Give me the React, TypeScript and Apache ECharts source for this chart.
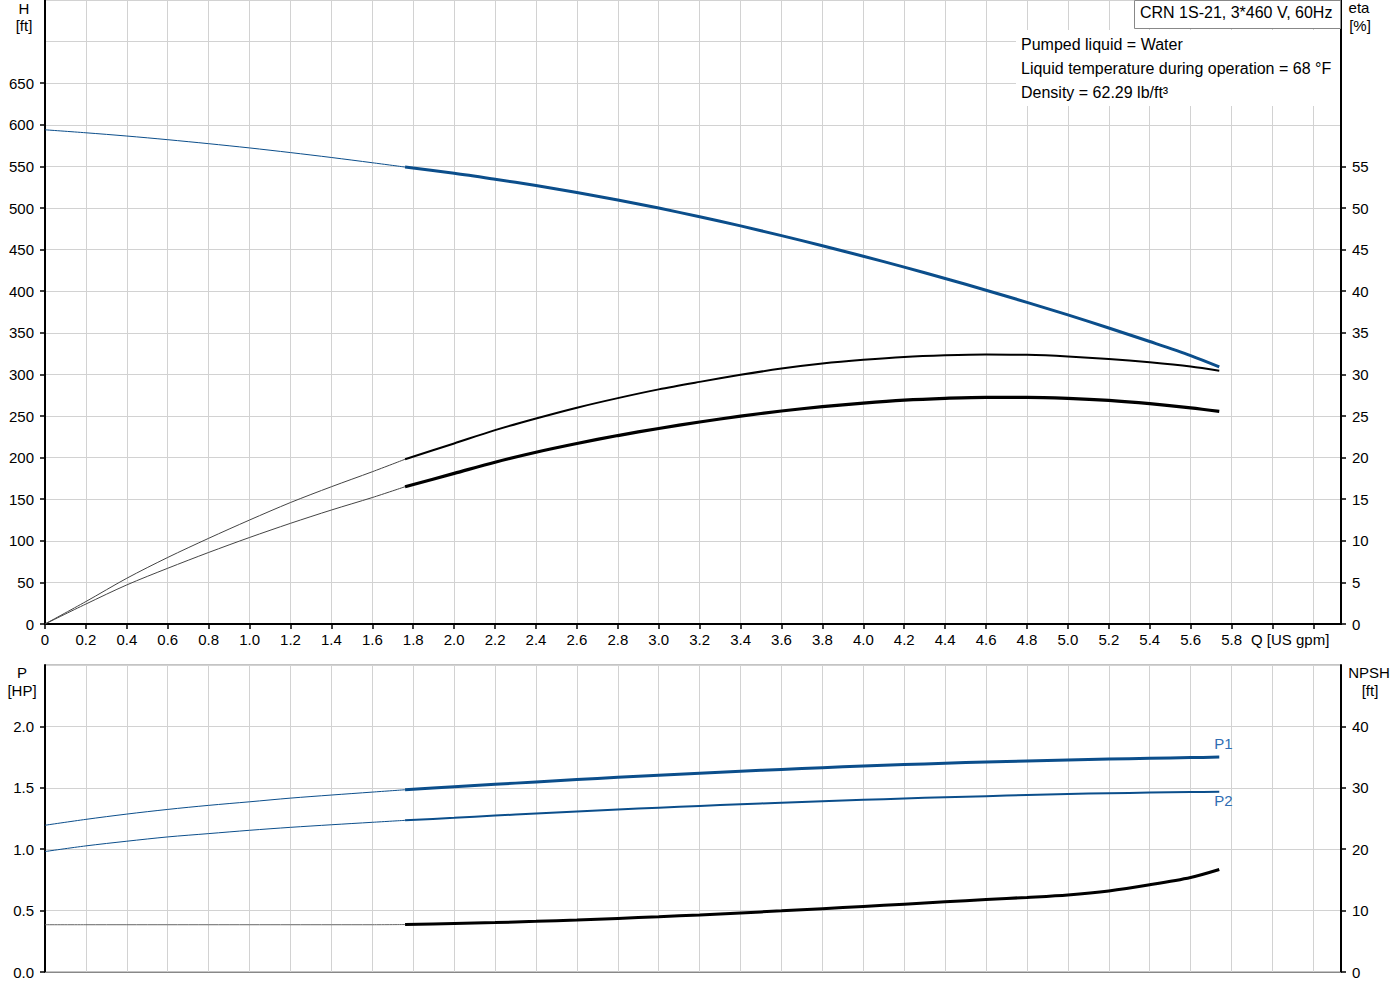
import { useEffect, useRef } from 'react';
import * as echarts from 'echarts';

const FONT = '"Liberation Sans", Arial, Helvetica, sans-serif';
const BLUE = '#0b4e8b';
const LABEL_BLUE = '#2f6db3';
const GRID = '#d2d2d2';

// flow [US gpm]; thin part of each curve runs to 1.76, thick part from there on
const qThin = [0, 0.2, 0.4, 0.6, 0.8, 1.0, 1.2, 1.4, 1.6, 1.76];
const qThick = [1.76, 2.0, 2.2, 2.4, 2.6, 2.8, 3.0, 3.2, 3.4, 3.6, 3.8, 4.0, 4.2, 4.4, 4.6, 4.8, 5.0, 5.2, 5.4, 5.6, 5.74];

// head H [ft]
const headThin = [594, 590.4, 586.5, 582.1, 577.3, 572.2, 566.6, 560.7, 554.4, 549.2];
const headThick = [549.2, 541.8, 534.6, 527.0, 518.6, 509.6, 499.9, 489.5, 478.5, 466.8, 454.6, 442.0, 428.9, 415.3, 401.2, 386.6, 371.5, 355.8, 339.5, 322.6, 309];

// efficiency eta [%]
const etaUpperThin = [0, 2.7, 5.5, 8.0, 10.3, 12.5, 14.6, 16.5, 18.3, 19.8];
const etaUpperThick = [19.8, 21.7, 23.3, 24.7, 26.0, 27.15, 28.2, 29.1, 29.95, 30.7, 31.3, 31.75, 32.1, 32.3, 32.4, 32.35, 32.15, 31.85, 31.45, 30.95, 30.45];
const etaLowerThin = [0, 2.4, 4.7, 6.7, 8.6, 10.4, 12.1, 13.7, 15.2, 16.5];
const etaLowerThick = [16.5, 18.1, 19.45, 20.65, 21.7, 22.65, 23.5, 24.28, 24.98, 25.6, 26.12, 26.55, 26.9, 27.12, 27.25, 27.25, 27.12, 26.87, 26.48, 25.98, 25.55];

// power P [HP]
const p1Thin = [1.195, 1.243, 1.286, 1.324, 1.357, 1.386, 1.416, 1.441, 1.465, 1.484];
const p1Thick = [1.484, 1.508, 1.528, 1.548, 1.567, 1.585, 1.602, 1.619, 1.635, 1.650, 1.664, 1.677, 1.689, 1.700, 1.710, 1.719, 1.727, 1.734, 1.740, 1.746, 1.750];
const p2Thin = [0.981, 1.027, 1.065, 1.1, 1.127, 1.154, 1.178, 1.199, 1.219, 1.235];
const p2Thick = [1.235, 1.256, 1.274, 1.291, 1.307, 1.323, 1.338, 1.352, 1.366, 1.379, 1.391, 1.402, 1.413, 1.423, 1.432, 1.441, 1.449, 1.456, 1.461, 1.465, 1.468];

// NPSH [ft]
const npshThin = [7.7, 7.7, 7.7, 7.7, 7.7, 7.7, 7.7, 7.7, 7.7, 7.73];
const npshThick = [7.73, 7.9, 8.05, 8.25, 8.48, 8.73, 9.0, 9.3, 9.62, 9.96, 10.32, 10.68, 11.05, 11.43, 11.8, 12.15, 12.55, 13.2, 14.2, 15.4, 16.7];

// tick labels
const hTicks = [0, 50, 100, 150, 200, 250, 300, 350, 400, 450, 500, 550, 600, 650];
const etaTicks = [0, 5, 10, 15, 20, 25, 30, 35, 40, 45, 50, 55];
const pTicks = [0, 0.5, 1.0, 1.5, 2.0];
const npshTicks = [0, 10, 20, 30, 40];

const infoLines = [
    'Pumped liquid = Water',
    'Liquid temperature during operation = 68 °F',
    'Density = 62.29 lb/ft³',
];

const Q_MAX = 6.335;

const pts = (xs: number[], ys: number[]) => xs.map((x, i) => [x, ys[i]]);

const labelStyle = {color: '#000', fontFamily: FONT, fontSize: 15};

function line(name: string, xs: number[], ys: number[], xi: number, yi: number, color: string, width: number, extra: any = {}) {
    return {
        name,
        type: 'line',
        xAxisIndex: xi,
        yAxisIndex: yi,
        data: pts(xs, ys),
        smooth: 0.3,
        symbol: 'none',
        lineStyle: {color, width},
        z: width > 1.5 ? 5 : 3,
        ...extra,
    };
}

function caption(text: string, x: number, y: number, align = 'center') {
    return {type: 'text', z: 12, x, y, style: {text, font: `15px ${FONT}`, fill: '#000', align, verticalAlign: 'middle'}};
}

export default function App() {
    const ref = useRef<HTMLDivElement | null>(null);

    useEffect(() => {
        if (!ref.current) return;
        const chart = echarts.init(ref.current, undefined, {renderer: 'svg'});

        const gridLine = {show: true, lineStyle: {color: GRID, width: 1}};
        const blackLine = {show: true, lineStyle: {color: '#000', width: 2}};
        const tickOut = {show: true, inside: false, length: 5, lineStyle: {color: '#000', width: 1.5}};

        chart.setOption({
            animation: false,
            textStyle: {fontFamily: FONT},
            grid: [
                {left: 45, right: 59, top: 0, height: 624, show: true, borderColor: '#999', borderWidth: 1, backgroundColor: 'transparent'},
                {left: 45, right: 59, top: 665, height: 307, show: true, borderColor: '#888', borderWidth: 1, backgroundColor: 'transparent'},
            ],
            xAxis: [
                {
                    type: 'value', gridIndex: 0, min: 0, max: Q_MAX, interval: 0.2,
                    axisLine: blackLine, axisTick: tickOut, splitLine: gridLine,
                    axisLabel: {
                        ...labelStyle, margin: 8, showMaxLabel: false,
                        formatter: (v: number) => (v > 5.85 ? '' : v === 0 ? '0' : v.toFixed(1)),
                    },
                },
                {
                    type: 'value', gridIndex: 1, min: 0, max: Q_MAX, interval: 0.2,
                    axisLine: {show: true, lineStyle: {color: '#888', width: 1}},
                    axisTick: {show: false}, axisLabel: {show: false}, splitLine: gridLine,
                },
            ],
            yAxis: [
                // 0: H (grid lines)
                {
                    type: 'value', gridIndex: 0, position: 'left', min: 0, max: 750, interval: 50,
                    axisLine: blackLine, axisTick: {show: false}, axisLabel: {show: false}, splitLine: gridLine,
                },
                // 1: eta
                {
                    type: 'value', gridIndex: 0, position: 'right', min: 0, max: 75, interval: 5,
                    axisLine: blackLine, splitLine: {show: false},
                    axisTick: {...tickOut, customValues: etaTicks},
                    axisLabel: {...labelStyle, margin: 11, customValues: etaTicks},
                },
                // 2: H labels
                {
                    type: 'value', gridIndex: 0, position: 'left', min: 0, max: 750, interval: 50,
                    axisLine: {show: false}, splitLine: {show: false},
                    axisTick: {...tickOut, customValues: hTicks},
                    axisLabel: {...labelStyle, margin: 11, customValues: hTicks},
                },
                // 3: P (grid lines)
                {
                    type: 'value', gridIndex: 1, position: 'left', min: 0, max: 2.5, interval: 0.5,
                    axisLine: blackLine, axisTick: {show: false}, axisLabel: {show: false}, splitLine: gridLine,
                },
                // 4: NPSH
                {
                    type: 'value', gridIndex: 1, position: 'right', min: 0, max: 50, interval: 10,
                    axisLine: blackLine, splitLine: {show: false},
                    axisTick: {...tickOut, customValues: npshTicks},
                    axisLabel: {...labelStyle, margin: 11, customValues: npshTicks},
                },
                // 5: P labels
                {
                    type: 'value', gridIndex: 1, position: 'left', min: 0, max: 2.5, interval: 0.5,
                    axisLine: {show: false}, splitLine: {show: false},
                    axisTick: {...tickOut, customValues: pTicks},
                    axisLabel: {...labelStyle, margin: 11, customValues: pTicks, formatter: (v: number) => v.toFixed(1)},
                },
            ],
            series: [
                line('H thin', qThin, headThin, 0, 0, BLUE, 1),
                line('H', qThick, headThick, 0, 0, BLUE, 3),
                line('eta thin', qThin, etaUpperThin, 0, 1, '#444', 1),
                line('eta', qThick, etaUpperThick, 0, 1, '#000', 2),
                line('eta2 thin', qThin, etaLowerThin, 0, 1, '#444', 1),
                line('eta2', qThick, etaLowerThick, 0, 1, '#000', 3.2),
                line('P1 thin', qThin, p1Thin, 1, 3, BLUE, 1),
                line('P1', qThick, p1Thick, 1, 3, BLUE, 3, {
                    endLabel: {show: true, formatter: 'P1', color: LABEL_BLUE, fontFamily: FONT, fontSize: 15, offset: [-13, -14]},
                }),
                line('P2 thin', qThin, p2Thin, 1, 3, BLUE, 1),
                line('P2', qThick, p2Thick, 1, 3, BLUE, 2, {
                    endLabel: {show: true, formatter: 'P2', color: LABEL_BLUE, fontFamily: FONT, fontSize: 15, offset: [-13, 9]},
                }),
                line('NPSH thin', qThin, npshThin, 1, 4, '#666', 1),
                line('NPSH', qThick, npshThick, 1, 4, '#000', 3),
            ],
            graphic: [
                {type: 'rect', z: 10, shape: {x: 1016, y: 30, width: 324, height: 76}, style: {fill: '#fff'}},
                {type: 'rect', z: 11, shape: {x: 1134.5, y: 0.5, width: 206, height: 28}, style: {fill: '#fff', stroke: '#888', lineWidth: 1}},
                {type: 'text', z: 12, x: 1140, y: 12, style: {text: 'CRN 1S-21, 3*460 V, 60Hz', font: `16px ${FONT}`, fill: '#000', verticalAlign: 'middle'}},
                ...infoLines.map((t, i) => ({
                    type: 'text', z: 12, x: 1021, y: 44 + i * 24,
                    style: {text: t, font: `16px ${FONT}`, fill: '#000', verticalAlign: 'middle'},
                })),
                caption('H', 24, 8),
                caption('[ft]', 24, 25),
                caption('eta', 1359, 7),
                caption('[%]', 1360, 25),
                caption('P', 22, 672),
                caption('[HP]', 22, 690),
                caption('NPSH', 1369, 672),
                caption('[ft]', 1370, 690),
                caption('Q [US gpm]', 1251, 639, 'left'),
            ],
        });

        return () => chart.dispose();
    }, []);

    return <div ref={ref} style={{position: 'fixed', left: 0, top: 0, width: 1400, height: 1000, background: '#fff'}}/>;
}
